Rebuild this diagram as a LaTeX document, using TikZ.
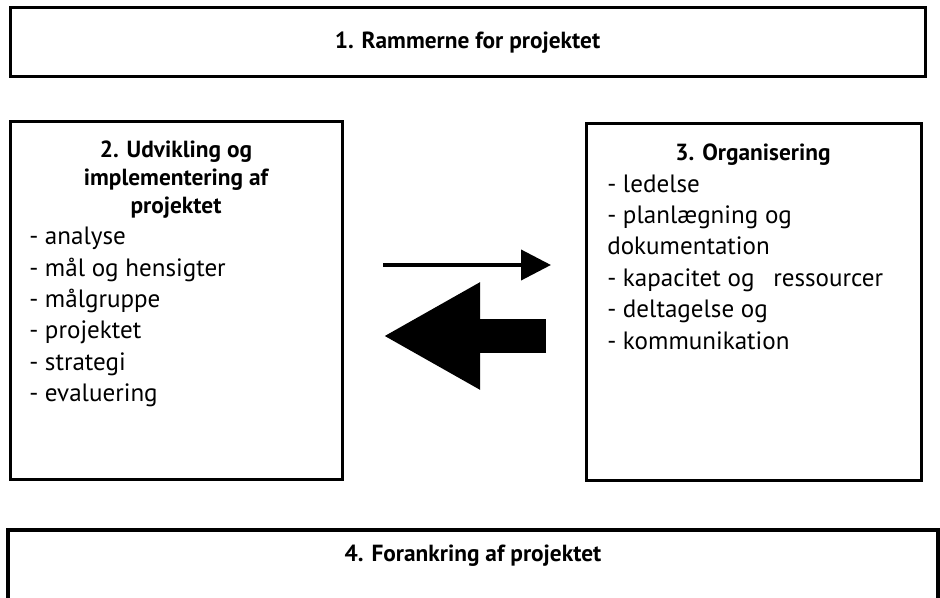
\documentclass[tikz,border=0pt]{standalone}
\usepackage{fontspec}
\setmainfont{PT Sans}
\usetikzlibrary{arrows.meta,positioning}

\tikzset{
  box/.style={rectangle,draw=black,line width=2.25pt,inner sep=0pt},
  heading/.style={font=\bfseries\fontsize{17.5}{21}\selectfont,align=center,inner sep=0pt},
  itemlist/.style={font=\fontsize{18.8}{23.55}\selectfont,align=left,inner sep=0pt,anchor=west},
  fwd/.style={line width=3pt,-{Triangle[length=22.5pt,width=22.5pt]}},
  back/.style={line width=25.5pt,-{Triangle[length=72.75pt,width=75pt]}}
}

\begin{document}
\begin{tikzpicture}[x=0.75pt,y=-0.75pt]
	\useasboundingbox (0,0) rectangle (940,598);
	\clip (0,0) rectangle (940,598);
	% frame and anchoring boxes
	\node[box,heading,minimum width=686.25pt,minimum height=51.75pt] (frame) at (467.5,42.5) {1. Rammerne for projektet};
	\node[box,line width=3pt,minimum width=697.5pt,minimum height=63pt] (anchor) at (473,572) {};
	\node[heading] (anchortitle) at (473,556) {4. Forankring af projektet};

	% development box
	\node[box,minimum width=249pt,minimum height=268.5pt] (dev) at (176,301) {};
	\node[heading] (devtitle) at (176,180) {2. Udvikling og\\implementering af\\projektet};
	\node[itemlist] (devlist) at (29,317) {- analyse\\- mål og hensigter\\- målgruppe\\- projektet\\- strategi\\- evaluering};

	% organisation box
	\node[box,minimum width=251.25pt,minimum height=267.75pt] (org) at (753.5,302.5) {};
	\node[heading] (orgtitle) at (753,155) {3. Organisering};
	\node[itemlist] (orglist) at (607,262) {- ledelse\\- planlægning og\\dokumentation\\- kapacitet og\hspace{0.75em}ressourcer\\- deltagelse og\\- kommunikation};

	% arrows between the two
	\coordinate (fwdstart) at (383,265);
	\coordinate (fwdend) at (551,265);
	\draw[fwd] (fwdstart) -- (fwdend);
	\coordinate (backstart) at (546,336);
	\coordinate (backend) at (383,336);
	\draw[back] (backstart) -- (backend);
\end{tikzpicture}
\end{document}
